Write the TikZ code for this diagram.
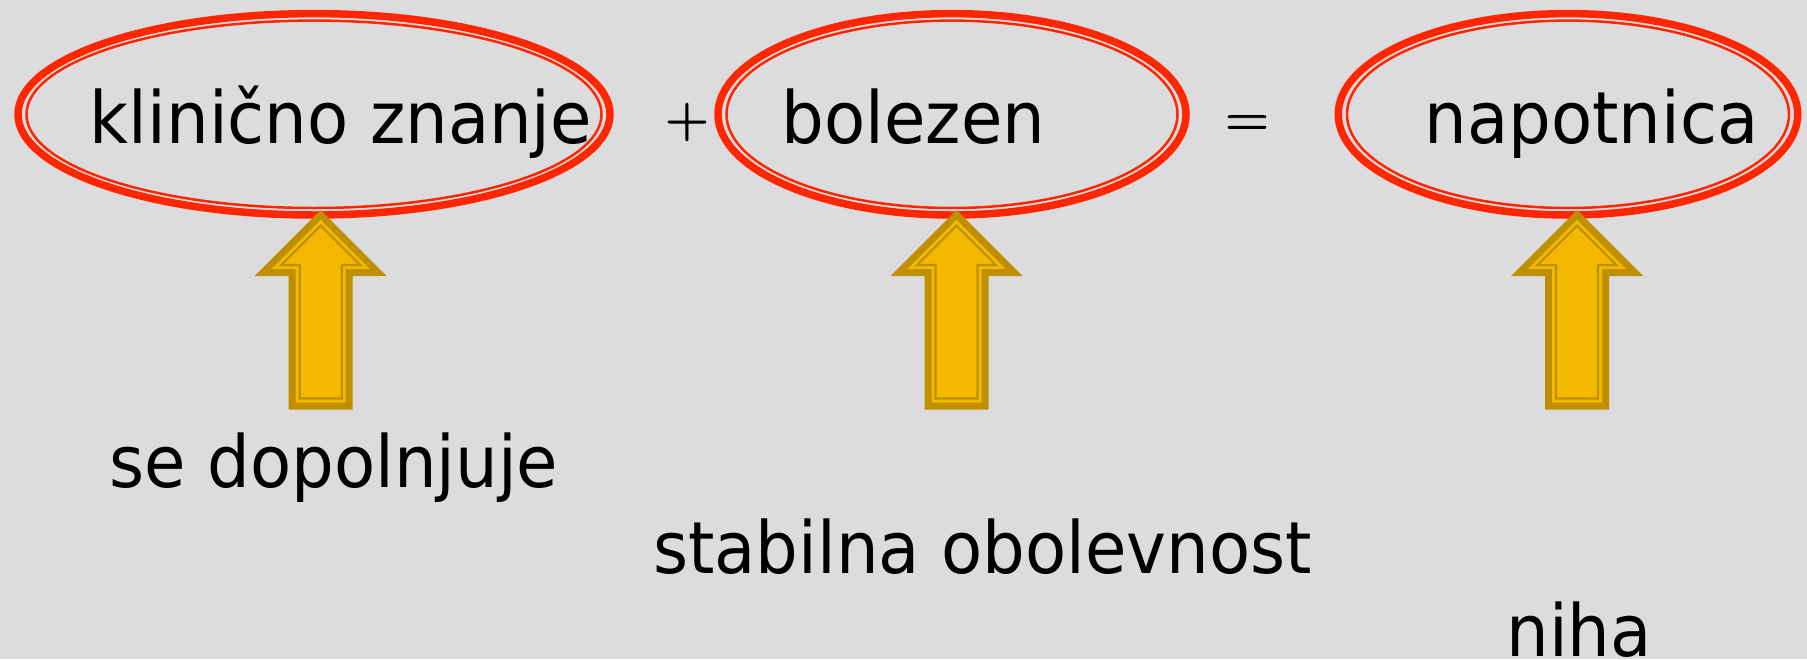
\documentclass[tikz,border=0pt]{standalone}
\usepackage{fontspec}
\setmainfont{DejaVu Sans}[FakeStretch=0.935]
\newfontfamily\opfont{Latin Modern Roman}[FakeBold=1.5]
\usetikzlibrary{shapes.geometric}

\definecolor{bgc}{RGB}{220,220,222}
\definecolor{ringred}{RGB}{255,38,0}
\definecolor{arrowdark}{RGB}{191,143,0}
\definecolor{arrowyellow}{RGB}{242,185,0}

\tikzset{
  ring/.style={ellipse, draw=ringred, line width=7.5pt, inner sep=0pt},
  innerring/.style={draw=ringred, line width=2.5pt},
  word/.style={anchor=base, inner sep=0pt, font=\fontsize{72}{80}\selectfont},
  opsign/.style={anchor=base, inner sep=0pt, font=\opfont\fontsize{60}{60}\selectfont},
}

% block arrow pointing up, tip at #1
\newcommand{\blockarrow}[1]{%
  \begin{scope}[shift={(#1)}]
    \fill[arrowdark] (0,0) -- (66,66) -- (32,66) -- (32,199.5) -- (-32,199.5) -- (-32,66) -- (-66,66) -- cycle;
    \fill[arrowyellow] (0,9.9) -- (49.1,59) -- (25,59) -- (25,192.5) -- (-25,192.5) -- (-25,59) -- (-49.1,59) -- cycle;
    \draw[arrowdark, line width=2.2pt, line join=miter] (0,15.6) -- (39.4,55) -- (21,55) -- (21,188.5) -- (-21,188.5) -- (-21,55) -- (-39.4,55) -- cycle;
  \end{scope}}

\begin{document}
\begin{tikzpicture}[x=1pt,y=-1pt]
  \fill[bgc] (0,0) rectangle (1807,659);
  \useasboundingbox (0,0) rectangle (1807,659);

  % ellipses
  \node[ring, minimum width=592pt, minimum height=201.4pt] (kz) at (314,114.3) {};
  \node[ring, minimum width=468pt, minimum height=201.4pt] (bol) at (952,114.3) {};
  \node[ring, minimum width=459.5pt, minimum height=201.4pt] (nap) at (1568,114.3) {};
  \draw[innerring] (kz.center) ellipse [x radius=287.5pt, y radius=93.7pt];
  \draw[innerring] (bol.center) ellipse [x radius=225.5pt, y radius=93.7pt];
  \draw[innerring] (nap.center) ellipse [x radius=221pt, y radius=93.7pt];

  \node[word] (kztxt) at (341,143) {klinično znanje};
  \node[word] (boltxt) at (913.5,143) {bolezen};
  \node[word] (naptxt) at (1591.5,143) {napotnica};
  \node[opsign] (plus) at (687,137) {+};
  \node[opsign] (eq) at (1247,137) {=};

  % arrows
  \coordinate (kztip) at (320.7,210);
  \coordinate (boltip) at (956.5,210);
  \coordinate (naptip) at (1577,210);
  \blockarrow{kztip}
  \blockarrow{boltip}
  \blockarrow{naptip}

  \node[word] (kzlab) at (334,487) {se dopolnjuje};
  \node[word] (bollab) at (982.5,573) {stabilna obolevnost};
  \node[word] (naplab) at (1579,656) {niha};
\end{tikzpicture}
\end{document}
